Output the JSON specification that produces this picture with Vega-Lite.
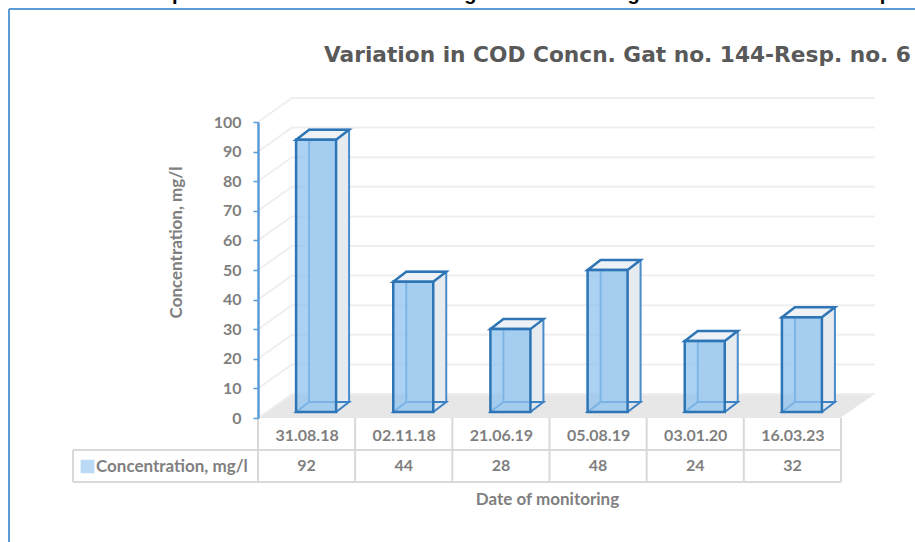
{
  "$schema": "https://vega.github.io/schema/vega-lite/v6.json",
  "width": 583, "height": 296,
  "autosize": {"type": "none"},
  "padding": {"left": 258, "top": 122, "right": 74, "bottom": 124},
  "background": "white",
  "view": {"stroke": null},
  "datasets": {
    "bars": [
      {"date": "31.08.18", "concentration": 92},
      {"date": "02.11.18", "concentration": 44},
      {"date": "21.06.19", "concentration": 28},
      {"date": "05.08.19", "concentration": 48},
      {"date": "03.01.20", "concentration": 24},
      {"date": "16.03.23", "concentration": 32}
    ],
    "ticks": [{"tick": 0},{"tick": 10},{"tick": 20},{"tick": 30},{"tick": 40},{"tick": 50},{"tick": 60},{"tick": 70},{"tick": 80},{"tick": 90},{"tick": 100}]
  },
  "resolve": {"axis": {"x": "independent", "y": "independent"}},
  "layer": [
    {"data": {"values": [{"e": 1}]}, "mark": {"type": "rule", "stroke": "#5b9bd5", "strokeWidth": 2},
     "encoding": {"x": {"value": -249}, "y": {"value": -113}, "y2": {"value": 425}}},
    {"data": {"values": [{"e": 1}]}, "mark": {"type": "rule", "stroke": "#5b9bd5", "strokeWidth": 2},
     "encoding": {"x": {"value": -249}, "x2": {"value": 660}, "y": {"value": -113}}},
    {"data": {"values": [{"base": 0}]},
     "mark": {"type": "point", "filled": true, "fill": "#e7e7e7", "opacity": 1, "size": 4, "strokeWidth": 0, "shape": "M0,0L582,0L617,-24L34,-24Z"},
     "encoding": {"x": {"value": 0}, "y": {"field": "base", "type": "quantitative", "axis": null, "scale": {"domain": [0, 100]}}}},
    {"data": {"name": "ticks"},
     "mark": {"type": "point", "filled": false, "fill": null, "opacity": 1, "size": 4, "stroke": "#efefef", "strokeWidth": 2, "shape": "M0,0L34,-24L617,-24"},
     "encoding": {"x": {"value": 0}, "y": {"field": "tick", "type": "quantitative", "axis": null, "scale": {"domain": [0, 100]}}}},
    {"data": {"name": "bars"},
     "mark": {"type": "rect", "width": 40, "xOffset": 22.5, "yOffset": -16, "y2Offset": -16, "fill": "#e6ebf0", "stroke": "#4a8ccb", "strokeWidth": 2},
     "encoding": {"x": {"field": "date", "type": "nominal", "sort": null, "scale": {"type": "point", "padding": 0.5}, "axis": null}, "y": {"field": "concentration", "type": "quantitative", "axis": null, "scale": {"domain": [0, 100]}}, "y2": {"datum": 0}}},
    {"data": {"name": "bars"},
     "mark": {"type": "point", "filled": true, "fill": "#dfe6ee", "opacity": 1, "size": 4, "stroke": "#3c82c4", "strokeWidth": 2, "xOffset": 9.5, "yOffset": -6, "shape": "M-20,0L20,0L33,-10L-7,-10Z"},
     "encoding": {"x": {"field": "date", "type": "nominal", "sort": null, "axis": null}, "y": {"datum": 0, "axis": null}}},
    {"data": {"name": "bars"},
     "mark": {"type": "point", "filled": true, "fill": "#eef2f6", "opacity": 1, "size": 4, "stroke": "#2e75b6", "strokeWidth": 2.5, "xOffset": 9.5, "yOffset": -6, "shape": "M-20,0L20,0L33,-10L-7,-10Z"},
     "encoding": {"x": {"field": "date", "type": "nominal", "sort": null, "axis": null}, "y": {"field": "concentration", "type": "quantitative", "axis": null}}},
    {"data": {"name": "bars"},
     "mark": {"type": "rect", "width": 40, "xOffset": 9.5, "yOffset": -6, "y2Offset": -6, "fillOpacity": 0.75, "stroke": "#2e75b6", "strokeWidth": 2.5},
     "encoding": {
       "x": {"field": "date", "type": "nominal", "sort": null,
             "axis": {"title": "Date of monitoring", "titleFont": "Lato", "titleFontSize": 17, "titleFontWeight": "bold", "titleColor": "#7f7f7f", "titleBaseline": "middle", "titleY": 81, "titleX": 289,
                      "ticks": false, "domain": false, "grid": false, "labelAngle": 0, "labelFont": "Lato", "labelFontSize": 16, "labelFontWeight": "bold", "labelColor": "#7f7f7f", "labelPadding": 9, "labelBaseline": "top"}},
       "y": {"field": "concentration", "type": "quantitative", "scale": {"domain": [0, 100]},
             "axis": {"title": "Concentration, mg/l", "values": [0,10,20,30,40,50,60,70,80,90,100], "grid": false, "titleFont": "Lato", "titleFontSize": 17, "titleFontWeight": "bold", "titleColor": "#7f7f7f", "titleAngle": -90, "titleX": -82, "titleY": 120, "titleBaseline": "middle", "titleAlign": "center",
                      "domainColor": "#5b9bd5", "domainWidth": 2.5, "tickColor": "#5b9bd5", "tickWidth": 1.5, "tickSize": 5, "labelFont": "Lato", "labelFontSize": 16, "labelFontWeight": "bold", "labelColor": "#7f7f7f", "labelPadding": 12, "zindex": 1}},
       "y2": {"datum": 0},
       "color": {"datum": "Concentration, mg/l", "scale": {"range": ["#8fc3ef"]},
                 "legend": {"title": null, "orient": "none", "legendX": -179, "legendY": 336, "symbolType": "square", "symbolSize": 150, "symbolOpacity": 0.6, "symbolStrokeColor": "#8fc3ef", "labelFont": "Lato", "labelFontSize": 17, "labelFontWeight": "bold", "labelColor": "#7f7f7f", "labelOffset": 0, "labelLimit": 200}}
     }},
    {"data": {"name": "bars"},
     "mark": {"type": "rule", "stroke": "#d9d9d9", "strokeWidth": 2, "xOffset": -48.6},
     "encoding": {"x": {"field": "date", "type": "nominal", "sort": null, "axis": null}, "y": {"value": 296}, "y2": {"value": 360}}},
    {"data": {"values": [{"e": 1}]}, "mark": {"type": "rule", "stroke": "#d9d9d9", "strokeWidth": 2},
     "encoding": {"x": {"value": 583}, "y": {"value": 296}, "y2": {"value": 360}}},
    {"data": {"values": [{"e": 1}]}, "mark": {"type": "rule", "stroke": "#d9d9d9", "strokeWidth": 2},
     "encoding": {"x": {"value": -185}, "y": {"value": 328}, "y2": {"value": 360}}},
    {"data": {"values": [{"e": 1}]}, "mark": {"type": "rule", "stroke": "#d9d9d9", "strokeWidth": 2},
     "encoding": {"x": {"value": -185}, "x2": {"value": 583}, "y": {"value": 328}}},
    {"data": {"values": [{"e": 1}]}, "mark": {"type": "rule", "stroke": "#d9d9d9", "strokeWidth": 2},
     "encoding": {"x": {"value": -185}, "x2": {"value": 583}, "y": {"value": 360}}},
    {"data": {"name": "bars"},
     "mark": {"type": "text", "font": "Lato", "fontSize": 16, "fontWeight": "bold", "color": "#7f7f7f", "baseline": "middle"},
     "encoding": {"x": {"field": "date", "type": "nominal", "sort": null, "axis": null}, "y": {"value": 344}, "text": {"field": "concentration", "type": "quantitative"}}},
    {"data": {"values": [{"label": "Variation in COD Concn. Gat no. 144-Resp. no. 6"}]},
     "mark": {"type": "text", "font": "DejaVu Sans", "fontSize": 21.7, "fontWeight": "bold", "color": "#595959", "align": "left", "baseline": "middle"},
     "encoding": {"x": {"value": 66}, "y": {"value": -67}, "text": {"field": "label"}}},
    {"data": {"values": [{"label": "p\u2003\u2003\u2003\u2003\u2003\u2003\u2003\u2003\u2003\u2003\u2003\u2003\u2003\u2003g\u2003\u2003\u2003\u2003\u2003\u2003\u2003\u00a0\u00a0g\u2003\u2003\u2003\u2003\u2003\u2003\u2003\u2003\u2003\u2003\u2003\u2003p"}]},
     "mark": {"type": "text", "font": "Liberation Sans", "fontSize": 20, "fontWeight": "bold", "color": "#000000", "align": "left", "baseline": "alphabetic"},
     "encoding": {"x": {"value": -86}, "y": {"value": -122}, "text": {"field": "label"}}}
  ]
}
